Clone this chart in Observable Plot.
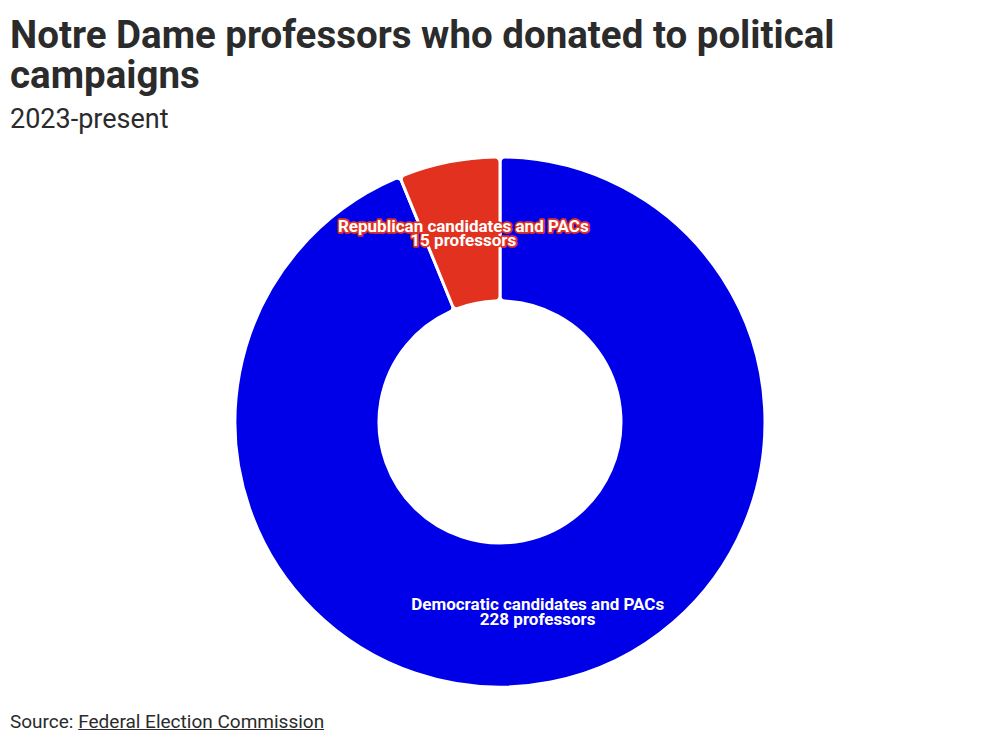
<!DOCTYPE html>
<html>
<head>
<meta charset="utf-8">
<script src="https://cdn.jsdelivr.net/npm/d3@7"></script>
<script src="https://cdn.jsdelivr.net/npm/@observablehq/plot@0.6"></script>
<style>
  html, body { margin: 0; padding: 0; background: #fff; }
  #wrap { position: relative; width: 1000px; height: 743px; font-family: Roboto, "Noto Sans", sans-serif; color: #2b2b2b; overflow: hidden; }
  .title { position: absolute; left: 10px; margin: 0; font-size: 38.5px; line-height: 40px; font-weight: 700; width: 960px; white-space: nowrap; }
  #title1 { top: 15px; }
  #title2 { top: 55px; }
  #subtitle { position: absolute; left: 10px; top: 104px; margin: 0; font-size: 27px; line-height: 30px; font-weight: 400; }
  #chart { position: absolute; left: 0; top: 142px; }
  #source { position: absolute; left: 10px; top: 711px; margin: 0; font-size: 19px; line-height: 22px; }
  #source a { color: #2b2b2b; text-decoration: underline; }
</style>
</head>
<body>
<div id="wrap">
  <div class="title" id="title1">Notre Dame professors who donated to political</div>
  <div class="title" id="title2">campaigns</div>
  <div id="subtitle">2023-present</div>
  <div id="chart"></div>
  <div id="source">Source: <a href="#">Federal Election Commission</a></div>
</div>
<script>
const categories = ["Democratic candidates and PACs", "Republican candidates and PACs"];
const values = [228, 15];
const unitLabel = "professors";
const colors = ["#0000e8", "#e2321f"];

const data = categories.map((c, i) => ({category: c, value: values[i], color: colors[i]}));

const W = 1000, H = 560;
const outerR = 265, innerR = 121;

const pie = d3.pie().value(d => d.value).sort(null);
const arcs = pie(data);
const arcGen = d3.arc().innerRadius(innerR).outerRadius(outerR).cornerRadius(5);

const labels = arcs.map(a => {
  const [cx, cy] = arcGen.centroid(a);
  return {x: cx, y: cy, text: `${a.data.category}\n${a.data.value} ${unitLabel}`, color: a.data.color};
});

function donut(index, scales) {
  const x0 = scales.x(0), y0 = scales.y(0);
  const g = d3.create("svg:g").attr("transform", `translate(${x0},${y0})`);
  g.selectAll("path")
    .data(arcs)
    .join("path")
    .attr("d", arcGen)
    .attr("fill", d => d.data.color)
    .attr("stroke", "white")
    .attr("stroke-width", 3)
    .attr("stroke-linejoin", "round");
  return g.node();
}

const chart = Plot.plot({
  width: W,
  height: H,
  margin: 0,
  style: {background: "transparent", overflow: "visible"},
  x: {domain: [-W / 2, W / 2], axis: null},
  y: {domain: [-H / 2, H / 2], reverse: true, axis: null},
  marks: [
    donut,
    Plot.text(labels, {
      x: "x",
      y: "y",
      text: "text",
      fill: "white",
      stroke: "color",
      strokeWidth: 3.5,
      fontSize: 17,
      fontWeight: 700,
      lineHeight: 0.85,
      dy: 1,
      fontFamily: "Roboto, sans-serif"
    })
  ]
});
document.getElementById("chart").appendChild(chart);
</script>
</body>
</html>
